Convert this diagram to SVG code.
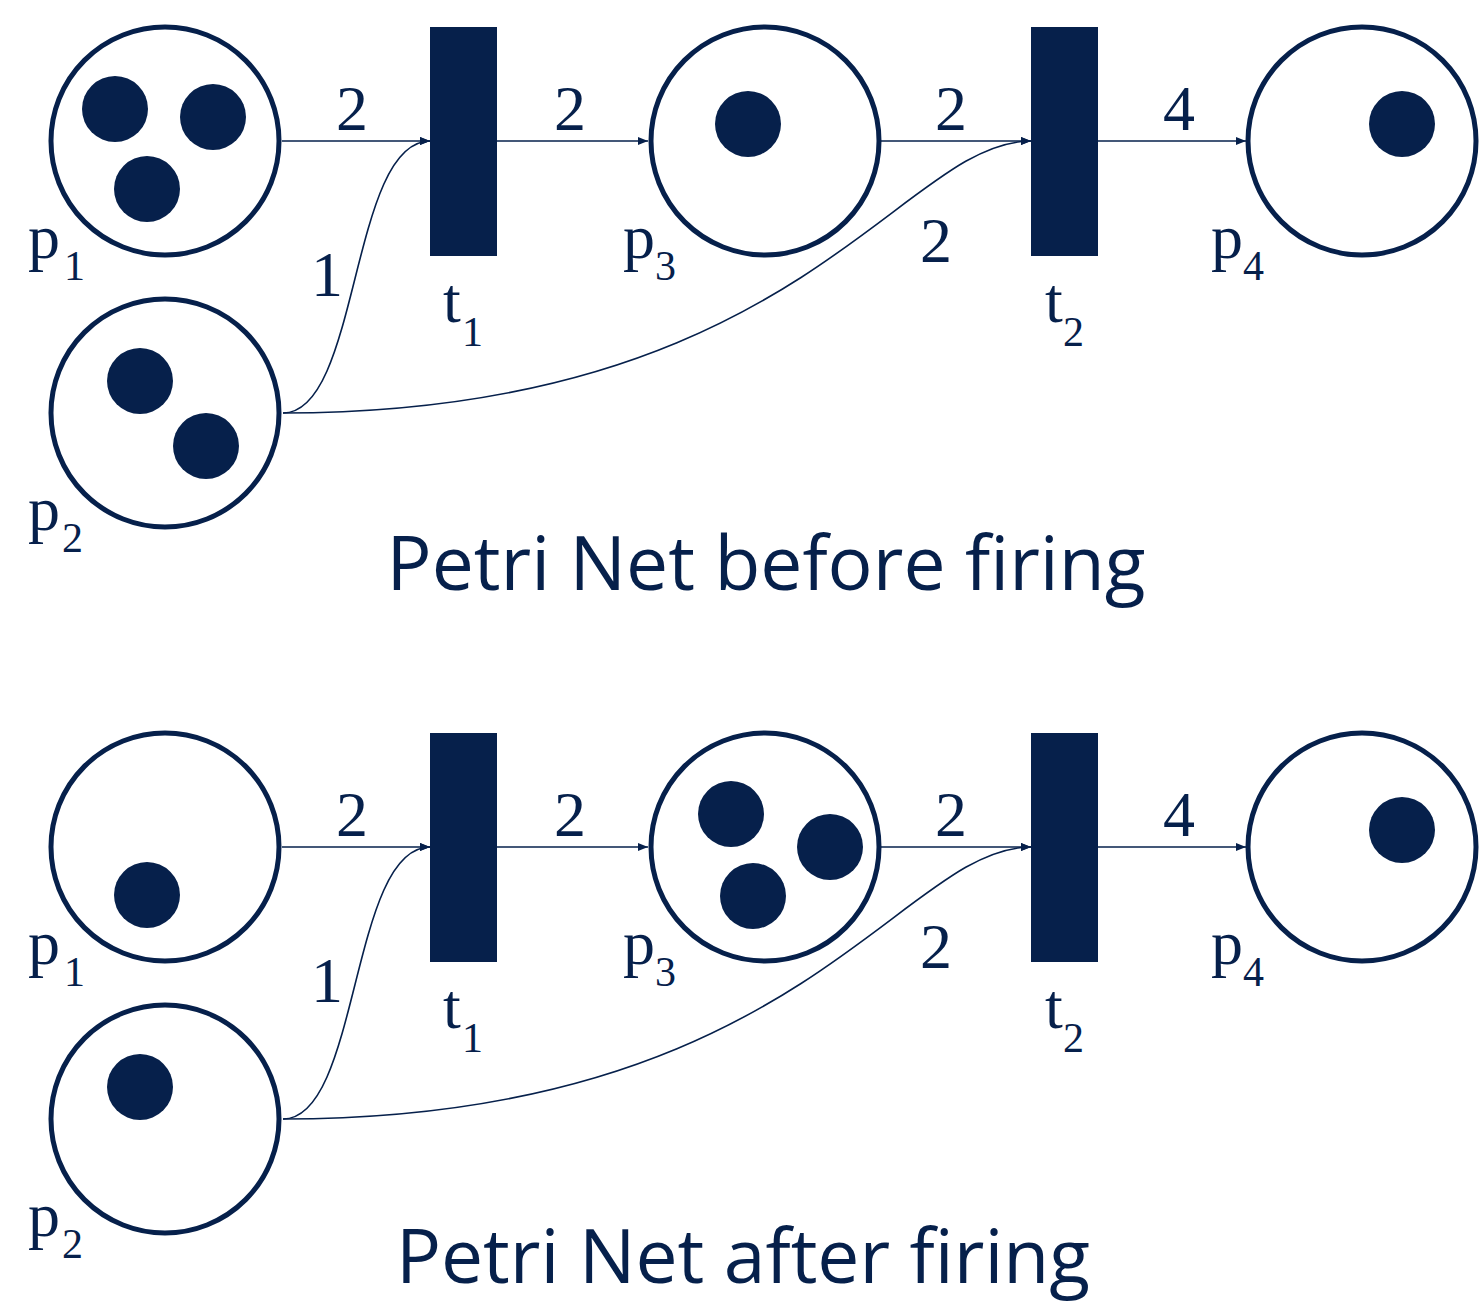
<svg xmlns="http://www.w3.org/2000/svg" width="1480" height="1305" viewBox="0 0 1480 1305">
<defs>
<style>
.place{fill:#fff;stroke:#06204b;stroke-width:5}
.tok{fill:#06204b}
.tr{fill:#06204b}
.arc{fill:none;stroke:#06204b;stroke-width:1.6}
.lbl{font-family:"Liberation Serif","Times New Roman",serif;font-size:64px;fill:#06204b}
.sub{font-size:42px}
.title{font-family:"Open Sans",sans-serif;font-size:75px;fill:#06204b;text-anchor:middle}
</style>
<marker id="ah" viewBox="0 0 10 8" refX="10" refY="4" markerWidth="10" markerHeight="8" markerUnits="userSpaceOnUse" orient="auto">
<path d="M0,0 L10,4 L0,8 z" fill="#06204b"/>
</marker>
<g id="net">
<g id="connectors">
<line class="arc" x1="282" y1="141" x2="430" y2="141" marker-end="url(#ah)"/>
<line class="arc" x1="497" y1="141" x2="648" y2="141" marker-end="url(#ah)"/>
<line class="arc" x1="880" y1="141" x2="1031" y2="141" marker-end="url(#ah)"/>
<line class="arc" x1="1098" y1="141" x2="1246" y2="141" marker-end="url(#ah)"/>
<path class="arc" d="M283,413 C360,413 350,141 430,141" marker-end="url(#ah)"/>
<path class="arc" d="M283,413 C800,413 900,141 1031,141" marker-end="url(#ah)"/>
</g>
<g id="t1"><rect class="tr" x="430" y="27" width="67" height="229"/>
<text class="lbl" x="443" y="322">t<tspan class="sub" x="462" y="346">1</tspan></text></g>
<g id="t2"><rect class="tr" x="1031" y="27" width="67" height="229"/>
<text class="lbl" x="1045" y="322">t<tspan class="sub" x="1063" y="346">2</tspan></text></g>
<g id="arc-labels">
<text class="lbl" x="336" y="130">2</text>
<text class="lbl" x="554" y="130">2</text>
<text class="lbl" x="935" y="130">2</text>
<text class="lbl" x="1163" y="130">4</text>
<text class="lbl" x="311" y="296">1</text>
<text class="lbl" x="920" y="262">2</text>
</g>
</g>
</defs>

<use href="#net"/>
<g id="p1-before"><circle class="place" cx="165" cy="141" r="114"/>
<circle class="tok" cx="115" cy="109" r="33"/><circle class="tok" cx="213" cy="117" r="33"/><circle class="tok" cx="147" cy="189" r="33"/>
<text class="lbl" x="28" y="258">p<tspan class="sub" x="64" y="280">1</tspan></text></g>
<g id="p2-before"><circle class="place" cx="165" cy="413" r="114"/>
<circle class="tok" cx="140" cy="381" r="33"/><circle class="tok" cx="206" cy="446" r="33"/>
<text class="lbl" x="28" y="530">p<tspan class="sub" x="62" y="552">2</tspan></text></g>
<g id="p3-before"><circle class="place" cx="765" cy="141" r="114"/>
<circle class="tok" cx="748" cy="124" r="33"/>
<text class="lbl" x="623" y="258">p<tspan class="sub" x="655" y="280">3</tspan></text></g>
<g id="p4-before"><circle class="place" cx="1362" cy="141" r="114"/>
<circle class="tok" cx="1402" cy="124" r="33"/>
<text class="lbl" x="1211" y="258">p<tspan class="sub" x="1243" y="280">4</tspan></text></g>
<text id="title-before" class="title" x="766" y="590">Petri Net before firing</text>

<use href="#net" y="706"/>
<g id="p1-after"><circle class="place" cx="165" cy="847" r="114"/>
<circle class="tok" cx="147" cy="895" r="33"/>
<text class="lbl" x="28" y="964">p<tspan class="sub" x="64" y="986">1</tspan></text></g>
<g id="p2-after"><circle class="place" cx="165" cy="1119" r="114"/>
<circle class="tok" cx="140" cy="1087" r="33"/>
<text class="lbl" x="28" y="1236">p<tspan class="sub" x="62" y="1258">2</tspan></text></g>
<g id="p3-after"><circle class="place" cx="765" cy="847" r="114"/>
<circle class="tok" cx="731" cy="814" r="33"/><circle class="tok" cx="830" cy="847" r="33"/><circle class="tok" cx="753" cy="896" r="33"/>
<text class="lbl" x="623" y="964">p<tspan class="sub" x="655" y="986">3</tspan></text></g>
<g id="p4-after"><circle class="place" cx="1362" cy="847" r="114"/>
<circle class="tok" cx="1402" cy="830" r="33"/>
<text class="lbl" x="1211" y="964">p<tspan class="sub" x="1243" y="986">4</tspan></text></g>
<text id="title-after" class="title" x="743" y="1283">Petri Net after firing</text>
</svg>
